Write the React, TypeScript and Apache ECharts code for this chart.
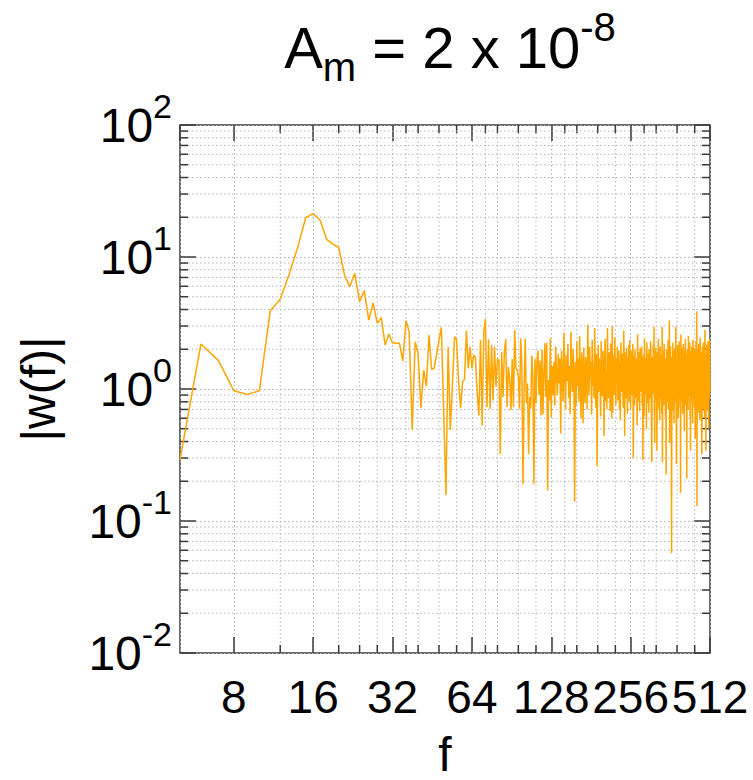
import React, { useEffect, useRef } from 'react';
import * as echarts from 'echarts';

// |w(f)|, one value per integer frequency
const firstFreq = 5;
// f = 5 .. 65
const ampLow = [
  0.29, 2.19, 1.64, 0.97, 0.91, 0.97, 3.92, 4.79, 7.5, 12.0,
  19.9, 21.3, 19.0, 13.6, 12.5, 11.8, 7.4, 5.96, 7.5, 4.58,
  5.56, 3.33, 4.5, 3.15, 3.47, 2.15, 2.61, 2.24, 2.22, 2.22,
  1.63, 3.29, 2.72, 0.49, 2.28, 1.86, 0.72, 1.39, 1.05, 2.56,
  1.41, 1.43, 1.81, 2.35, 2.93, 0.69, 0.157, 2.09, 0.49, 1.10,
  2.49, 2.35, 1.10, 0.72, 1.14, 1.18, 2.77, 1.43, 2.09, 1.43,
  1.81,
];
// f = 66 .. 130
const ampMid = [
  1.74, 0.94, 0.63, 2.35, 0.53, 2.72, 3.38, 0.73, 2.38, 0.71,
  2.15, 0.82, 2.09, 1.04, 1.69, 1.65, 0.32, 1.90, 0.87, 1.95,
  2.38, 0.73, 1.47, 1.20, 0.69, 1.69, 0.73, 2.80, 1.43, 1.39,
  1.24, 0.71, 2.42, 1.50, 0.19, 1.04, 2.40, 0.78, 1.10, 0.32,
  0.87, 0.71, 1.79, 1.20, 0.19, 1.69, 0.78, 1.64, 1.95, 0.90,
  1.64, 0.63, 1.98, 0.64, 1.31, 2.22, 0.87, 2.23, 0.17, 1.17,
  0.82, 2.42, 0.61, 1.50, 0.90,
];
// f = 131 .. 266
const ampHighA = [
  1.60, 0.75, 2.10, 1.30, 0.90, 1.85, 1.10, 1.70, 0.46, 1.95,
  1.20, 0.80, 2.67, 1.40, 0.70, 1.80, 1.15, 2.20, 0.85, 1.50,
  0.65, 2.72, 1.30, 0.95, 2.00, 1.25, 0.14, 1.60, 0.75, 2.30,
  1.05, 1.70, 0.80, 2.52, 1.20, 0.60, 1.90, 1.35, 0.55, 2.05,
  1.10, 0.78, 1.75, 1.30, 0.70, 3.07, 1.45, 0.90, 2.10, 1.20,
  1.60, 0.64, 2.35, 1.05, 1.50, 0.85, 2.90, 1.30, 0.72, 1.85,
  0.26, 1.40, 2.15, 0.95, 1.70, 1.10, 0.62, 2.30, 1.25, 0.88,
  1.95, 1.15, 0.44, 1.65, 2.40, 0.80, 1.35, 0.70, 2.90, 1.20,
  0.85, 1.90, 1.45, 0.68, 2.20, 1.05, 0.60, 3.00, 0.66, 1.55,
  1.80, 0.90, 2.45, 1.25, 0.75, 1.70, 1.15, 2.10, 0.82, 1.40,
  1.95, 0.70, 1.60, 0.58, 2.25, 1.30, 0.95, 1.85, 1.10, 0.72,
  2.77, 1.40, 0.44, 1.90, 1.20, 0.85, 2.05, 1.35, 0.65, 1.75,
  1.05, 2.15, 0.80, 2.35, 1.25, 0.70, 1.60, 1.95, 0.90, 1.45,
  2.20, 0.30, 1.30, 1.80, 0.75, 2.00,
];
// f = 267 .. 512
const ampHighB = [
  1.10, 0.85, 1.70, 1.25, 0.53, 2.60, 1.15, 0.80, 1.90, 1.35,
  0.68, 2.05, 1.20, 0.95, 1.60, 2.10, 0.75, 1.40, 0.29, 1.80,
  1.05, 0.62, 2.40, 1.30, 0.90, 1.70, 1.20, 0.50, 2.25, 1.45,
  0.78, 1.85, 1.10, 0.66, 2.00, 1.35, 0.85, 1.55, 2.30, 1.00,
  0.60, 0.28, 1.75, 1.25, 0.92, 2.15, 1.40, 2.97, 0.72, 0.39,
  1.60, 1.10, 2.05, 0.82, 1.45, 0.34, 1.90, 1.20, 0.70, 2.40,
  1.30, 0.95, 1.65, 0.58, 2.10, 1.15, 0.85, 1.80, 1.40, 0.65,
  2.95, 0.28, 1.25, 1.95, 1.05, 0.75, 2.20, 1.35, 0.90, 1.70,
  0.62, 1.50, 0.225, 2.00, 1.20, 0.80, 1.85, 1.10, 2.35, 0.70,
  1.45, 0.95, 3.30, 0.39, 1.60, 1.25, 2.10, 0.85, 1.40, 0.057,
  1.75, 1.15, 0.68, 2.25, 1.30, 0.90, 1.95, 0.55, 1.50, 1.10,
  2.05, 0.80, 1.35, 2.97, 0.75, 0.27, 1.65, 1.20, 0.95, 2.15,
  1.40, 0.60, 1.85, 1.05, 2.30, 0.85, 1.55, 0.72, 1.90, 0.164,
  2.60, 1.25, 0.80, 1.70, 1.15, 2.05, 0.65, 1.45, 1.00, 2.20,
  0.90, 1.60, 0.48, 1.95, 1.30, 0.75, 2.40, 1.10, 1.50, 0.85,
  1.80, 0.21, 1.35, 2.00, 0.95, 1.55, 0.70, 2.52, 1.20, 0.88,
  1.75, 1.05, 2.25, 0.62, 1.45, 0.34, 1.90, 1.15, 0.80, 2.10,
  1.30, 0.95, 1.65, 0.55, 2.35, 1.20, 0.85, 1.70, 1.00, 2.05,
  0.72, 1.50, 1.25, 0.42, 1.95, 1.10, 2.30, 0.80, 1.40, 3.86,
  0.13, 1.60, 1.20, 2.00, 0.90, 1.45, 0.66, 2.20, 1.15, 0.85,
  1.80, 1.30, 0.58, 2.45, 1.05, 1.55, 0.78, 1.90, 1.20, 0.45,
  0.32, 1.70, 2.10, 0.95, 1.35, 0.70, 2.25, 1.15, 0.88, 1.65,
  1.25, 0.60, 1.95, 2.80, 1.05, 0.75, 1.50, 0.34, 1.85, 1.20,
  0.90, 2.15, 1.40, 0.68, 1.75, 1.10, 2.30, 0.82, 1.55, 0.50,
  1.95, 1.25, 0.85, 2.40, 1.30, 0.95,
];

const xMin = 5;
const xMax = 512;
const yMin = 0.01;
const yMax = 100;
const xTickLabels = [8, 16, 32, 64, 128, 256, 512];
const xMinorTicks = [12, 20, 24, 28, 36, 40, 48, 56, 72, 80, 96, 112, 144, 160, 192, 224, 288, 320, 384, 448];
const yDecades = [0.01, 0.1, 1, 10];
const yMantissas = [2, 3, 4, 5, 6, 7, 8, 9];

const FONT = '"Liberation Sans", Arial, Helvetica, sans-serif';
const ORANGE = '#ffa500';
const GRID_COLOR = '#b4b4b4';
const AXIS_COLOR = '#3a3a3a';
const LABEL_SIZE = 48;
const X_LABEL_SIZE = 46;

export default function App() {
  const ref = useRef<HTMLDivElement>(null);

  useEffect(() => {
    if (!ref.current) return;
    const chart = echarts.init(ref.current, undefined, { renderer: 'svg' });

    const amps = [...ampLow, ...ampMid, ...ampHighA, ...ampHighB];
    const lineData = amps.map((v, i) => [firstFreq + i, v]);
    const yMinor: number[] = [];
    yDecades.forEach((d) => yMantissas.forEach((m) => yMinor.push(d * m)));

    const gridStyle = { stroke: GRID_COLOR, lineWidth: 1, lineDash: [1.5, 2.5] };
    const tickStyle = { stroke: AXIS_COLOR, lineWidth: 1.5 };
    const minorLen = 8;

    const option: any = {
      animation: false,
      backgroundColor: '#ffffff',
      title: {
        text: '{a|A}{sub|m}{a| = 2 x 10}{sup|-8}',
        left: 445,
        top: 2,
        textAlign: 'center',
        textStyle: {
          fontWeight: 'normal',
          rich: {
            a: { fontFamily: FONT, fontSize: 58, fontWeight: 'normal', color: '#000', lineHeight: 80 },
            sub: { fontFamily: FONT, fontSize: 40, fontWeight: 'normal', color: '#000', verticalAlign: 'bottom', lineHeight: 40 },
            sup: { fontFamily: FONT, fontSize: 40, fontWeight: 'normal', color: '#000', verticalAlign: 'top', lineHeight: 40 },
          },
        },
      },
      grid: {
        left: 180,
        right: 43,
        top: 125,
        bottom: 127,
        containLabel: false,
        outerBoundsMode: 'none',
        show: true,
        borderColor: AXIS_COLOR,
        borderWidth: 1.5,
        backgroundColor: 'transparent',
      },
      xAxis: [
        {
          type: 'log',
          logBase: 2,
          min: xMin,
          max: xMax,
          position: 'bottom',
          name: 'f',
          nameLocation: 'middle',
          nameGap: 77,
          nameTextStyle: { fontFamily: FONT, fontSize: LABEL_SIZE, color: '#000', lineHeight: 48 },
          axisLine: { show: false },
          axisTick: { show: true, inside: true, length: 16, lineStyle: { color: AXIS_COLOR, width: 1.5 } },
          axisLabel: {
            show: true,
            interval: 0,
            hideOverlap: false,
            showMinLabel: false,
            showMaxLabel: true,
            margin: 21,
            fontFamily: FONT,
            fontSize: X_LABEL_SIZE,
            color: '#000',
            formatter: (v: number) => {
              const r = Math.round(v);
              return xTickLabels.includes(r) ? String(r) : '';
            },
          },
          splitLine: { show: true, lineStyle: { color: GRID_COLOR, width: 1, type: [1.5, 2.5] } },
        },
        {
          type: 'log',
          logBase: 2,
          min: xMin,
          max: xMax,
          position: 'top',
          axisLine: { show: false },
          axisTick: { show: true, inside: true, length: 16, lineStyle: { color: AXIS_COLOR, width: 1.5 } },
          axisLabel: { show: false },
          splitLine: { show: false },
        },
      ],
      yAxis: [
        {
          type: 'log',
          logBase: 10,
          min: yMin,
          max: yMax,
          position: 'left',
          name: '|w(f)|',
          nameLocation: 'middle',
          nameRotate: 90,
          nameGap: 118,
          nameTextStyle: { fontFamily: FONT, fontSize: LABEL_SIZE, color: '#000' },
          axisLine: { show: false },
          axisTick: { show: true, inside: true, length: 16, lineStyle: { color: AXIS_COLOR, width: 1.5 } },
          axisLabel: {
            show: true,
            interval: 0,
            hideOverlap: false,
            margin: 8,
            formatter: (v: number) => {
              const e = Math.round(Math.log10(v));
              return '{b|10}{s|' + e + '}';
            },
            rich: {
              b: { fontFamily: FONT, fontSize: LABEL_SIZE, color: '#000', lineHeight: 72 },
              s: { fontFamily: FONT, fontSize: 34, color: '#000', verticalAlign: 'top', lineHeight: 34 },
            },
          },
          splitLine: { show: true, lineStyle: { color: GRID_COLOR, width: 1, type: [1.5, 2.5] } },
        },
        {
          type: 'log',
          logBase: 10,
          min: yMin,
          max: yMax,
          position: 'right',
          axisLine: { show: false },
          axisTick: { show: true, inside: true, length: 16, lineStyle: { color: AXIS_COLOR, width: 1.5 } },
          axisLabel: { show: false },
          splitLine: { show: false },
        },
      ],
      series: [
        {
          type: 'custom',
          name: 'xMinor',
          xAxisIndex: 0,
          yAxisIndex: 0,
          silent: true,
          clip: false,
          z: 1,
          data: xMinorTicks.map((v) => [v, 1]),
          renderItem: (params: any, api: any) => {
            const cs = params.coordSys;
            const p = api.coord([api.value(0), api.value(1)]);
            const x = p[0];
            const top = cs.y;
            const bottom = cs.y + cs.height;
            return {
              type: 'group',
              children: [
                { type: 'line', shape: { x1: x, y1: top, x2: x, y2: bottom }, style: gridStyle },
                { type: 'line', shape: { x1: x, y1: bottom, x2: x, y2: bottom - minorLen }, style: tickStyle },
                { type: 'line', shape: { x1: x, y1: top, x2: x, y2: top + minorLen }, style: tickStyle },
              ],
            };
          },
        },
        {
          type: 'custom',
          name: 'yMinor',
          xAxisIndex: 0,
          yAxisIndex: 0,
          silent: true,
          clip: false,
          z: 1,
          data: yMinor.map((v) => [16, v]),
          renderItem: (params: any, api: any) => {
            const cs = params.coordSys;
            const p = api.coord([api.value(0), api.value(1)]);
            const y = p[1];
            const left = cs.x;
            const right = cs.x + cs.width;
            return {
              type: 'group',
              children: [
                { type: 'line', shape: { x1: left, y1: y, x2: right, y2: y }, style: gridStyle },
                { type: 'line', shape: { x1: left, y1: y, x2: left + minorLen, y2: y }, style: tickStyle },
                { type: 'line', shape: { x1: right, y1: y, x2: right - minorLen, y2: y }, style: tickStyle },
              ],
            };
          },
        },
        {
          type: 'line',
          name: '|w(f)|',
          xAxisIndex: 0,
          yAxisIndex: 0,
          data: lineData,
          showSymbol: false,
          symbol: 'none',
          z: 5,
          lineStyle: { color: ORANGE, width: 1.5 },
          itemStyle: { color: ORANGE },
        },
      ],
    };

    chart.setOption(option);
    return () => chart.dispose();
  }, []);

  return (
    <div
      ref={ref}
      style={{ position: 'fixed', left: 0, top: 0, width: 753, height: 780, background: '#fff' }}
    />
  );
}
